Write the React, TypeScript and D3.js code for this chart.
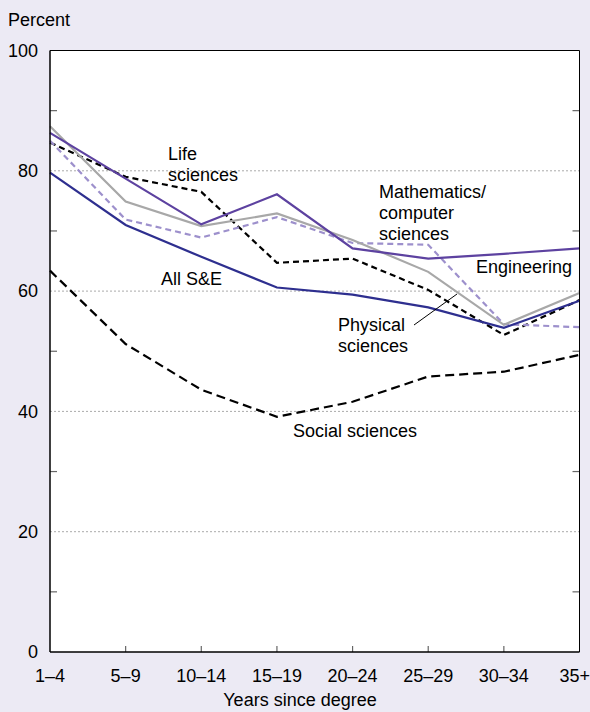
import React from "react";
import * as d3 from "d3";

const categories = ["1–4", "5–9", "10–14", "15–19", "20–24", "25–29", "30–34", "35+"];
const engineering = [86.3, 78.7, 71.1, 76.1, 67.1, 65.4, 66.2, 67.1];
const physical = [87.4, 74.9, 70.8, 72.9, 68.5, 63.2, 54.4, 59.7];
const mathCS = [85.0, 71.9, 68.9, 72.3, 68.0, 67.7, 54.5, 54.0];
const life = [84.7, 79.0, 76.5, 64.7, 65.4, 60.2, 52.7, 58.5];
const allSE = [79.7, 71.0, 65.7, 60.6, 59.4, 57.3, 53.9, 58.4];
const social = [63.4, 51.2, 43.6, 39.1, 41.6, 45.8, 46.6, 49.4];
const yTicks = [0, 20, 40, 60, 80, 100];
const minorTicks = [10, 30, 50, 70, 90];

const W = 590, H = 712;
const L = 50, R = 579.5, T = 50.5, B = 652;
const FONT = "'Liberation Sans', Arial, Helvetica, sans-serif";

export default function App() {
  const x = d3.scalePoint<string>().domain(categories).range([L, R]);
  const y = d3.scaleLinear().domain([0, 100]).range([B, T]);
  const line = d3.line<number>().x((_, i) => x(categories[i])!).y((d) => y(d));

  const series = [
    { data: social, color: "#000", dash: "9,5", w: 2.2 },
    { data: life, color: "#000", dash: "6,4", w: 2.2 },
    { data: mathCS, color: "#9d90cc", dash: "6,4", w: 2.2 },
    { data: physical, color: "#a8a8a8", dash: null, w: 2.2 },
    { data: allSE, color: "#2e2f8f", dash: null, w: 2.2 },
    { data: engineering, color: "#5d42a0", dash: null, w: 2.2 },
  ];

  const labels: { lines: string[]; x: number; y: number }[] = [
    { lines: ["Life", "sciences"], x: 168, y: 160 },
    { lines: ["All S&E"], x: 161, y: 285 },
    { lines: ["Mathematics/", "computer", "sciences"], x: 379, y: 198 },
    { lines: ["Engineering"], x: 476, y: 273 },
    { lines: ["Physical", "sciences"], x: 338, y: 331 },
    { lines: ["Social sciences"], x: 293, y: 437 },
  ];

  return (
    <div style={{ position: "fixed", left: 0, top: 0 }}>
      <svg width={W} height={H} style={{ display: "block", background: "#eceaf4" }}>
        <rect x={L} y={T} width={R - L} height={B - T} fill="#fff" />
        {yTicks.filter((t) => t > 0 && t < 100).map((t) => (
          <line key={"g" + t} x1={L} x2={R} y1={y(t)} y2={y(t)} stroke="#aaa" strokeWidth={1} strokeDasharray="2,2" />
        ))}
        {minorTicks.map((t) => (
          <g key={"m" + t}>
            <line x1={L} x2={L + 7} y1={y(t)} y2={y(t)} stroke="#666" strokeWidth={1.2} />
            <line x1={R - 7} x2={R} y1={y(t)} y2={y(t)} stroke="#666" strokeWidth={1.2} />
          </g>
        ))}
        {categories.slice(1, -1).map((c) => (
          <line key={"xt" + c} x1={x(c)} x2={x(c)} y1={B} y2={B - 6} stroke="#666" strokeWidth={1.2} />
        ))}
        {series.map((s, i) => (
          <path
            key={i}
            d={line(s.data) || ""}
            fill="none"
            stroke={s.color}
            strokeWidth={s.w}
            strokeDasharray={s.dash || undefined}
            strokeLinejoin="miter"
          />
        ))}
        <line x1={L} x2={L} y1={T} y2={B} stroke="#000" strokeWidth={1.5} />
        <line x1={L} x2={R} y1={B} y2={B} stroke="#000" strokeWidth={1.5} />
        <line x1={L} x2={R} y1={T} y2={T} stroke="#000" strokeWidth={1} />
        <line x1={R} x2={R} y1={T} y2={B} stroke="#000" strokeWidth={1} />
        <line x1={414} y1={325} x2={457} y2={294} stroke="#000" strokeWidth={1} />
        <g fontFamily={FONT} fontSize={18} fill="#000">
          <text x={8} y={26}>Percent</text>
          {yTicks.map((t) => (
            <text key={"yl" + t} x={38} y={y(t)} dy="0.35em" textAnchor="end">{t}</text>
          ))}
          {categories.map((c, i) => (
            <text key={"xl" + c} x={i === categories.length - 1 ? 590 : x(c)} y={682} textAnchor={i === categories.length - 1 ? "end" : "middle"}>{c}</text>
          ))}
          <text x={300} y={706} textAnchor="middle">Years since degree</text>
          {labels.map((lb, i) => (
            <text key={"lb" + i} x={lb.x} y={lb.y}>
              {lb.lines.map((t, j) => (
                <tspan key={j} x={lb.x} dy={j === 0 ? 0 : 21}>{t}</tspan>
              ))}
            </text>
          ))}
        </g>
      </svg>
    </div>
  );
}
